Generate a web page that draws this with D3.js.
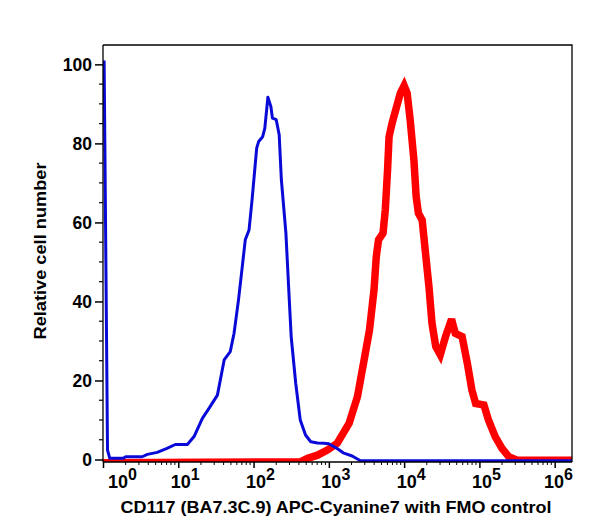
<!DOCTYPE html>
<html>
<head>
<meta charset="utf-8">
<script src="https://cdn.jsdelivr.net/npm/d3@7"></script>
<style>
  html, body { margin: 0; padding: 0; background: #fff; }
  svg { display: block; }
  text { font-family: "Liberation Sans", Arial, Helvetica, sans-serif; font-weight: bold; fill: #000; }
</style>
</head>
<body>
<div id="chart"></div>
<script>
// ---- Data ----
// Blue histogram: fluorescence intensity and relative cell number
const blueX = [1.035, 1.148, 1.23, 1.86, 2.0, 3.31, 3.89, 5.25, 7.08, 9.12, 13.2, 16.2, 20.9, 25.7, 33.1, 40.7, 49, 55, 63.1, 70.8, 77.6, 87.1, 95.5, 110, 117, 132, 141, 155, 170, 178, 200, 219, 234, 269, 295, 316, 363, 417, 490, 575, 708, 851, 1000, 1288, 1585, 2042, 2630, 1780000];
const blueY = [101, 2.4, 0.3, 0.3, 0.7, 0.7, 1.3, 1.8, 2.8, 3.8, 3.8, 5.8, 10.4, 13, 16.3, 25.2, 27.3, 31.9, 40.4, 48.8, 55.6, 58.1, 65.7, 78.8, 80.5, 81.7, 83.8, 91.7, 89.3, 86.4, 86, 82.2, 70.8, 57.3, 42.1, 31.1, 19.3, 10, 6.2, 4.5, 4.2, 4.1, 4.0, 2.8, 1.6, 0.9, -0.3, -0.3];
// Red histogram
const redX = [1, 417, 525, 708, 955, 1288, 1862, 2399, 2884, 3467, 3981, 4266, 4571, 5248, 5623, 6026, 6310, 6918, 7943, 8913, 10000, 10965, 12023, 13490, 14454, 15488, 17378, 19055, 21380, 23442, 26303, 30200, 35481, 42658, 47863, 58884, 69183, 79433, 89125, 114815, 131826, 162181, 199526, 245471, 316228, 1780000];
const redY = [-0.8, -0.6, 0.3, 1.1, 2.4, 4.1, 9.2, 15.9, 24.3, 32.8, 42.9, 51.3, 55.6, 57.3, 63.2, 73.3, 81.7, 85.1, 89.3, 92.7, 94.6, 92.7, 86, 75.8, 66.5, 62.3, 60.6, 53, 43.7, 34.5, 28.6, 26.5, 31.1, 35.5, 31.9, 31.1, 24.3, 17.6, 14.2, 13.8, 10, 5.8, 2.8, 0.7, -0.2, -0.2];

const xTickExponents = [0, 1, 2, 3, 4, 5, 6];
const yTickValues = [0, 20, 40, 60, 80, 100];
const xTitle = "CD117 (BA7.3C.9) APC-Cyanine7 with FMO control";
const yTitle = "Relative cell number";

// ---- Layout ----
const W = 593, H = 532;
const pL = 103, pR = 572, pT = 45, pB = 462;

const svg = d3.select("#chart").append("svg").attr("width", W).attr("height", H);

const x = d3.scaleLog().domain([1, Math.pow(10, 6.23)]).range([pL, pR]);
const y = d3.scaleLinear().domain([-0.63, 104.9]).range([pB, pT]);

svg.append("defs").append("clipPath").attr("id", "plotclip")
  .append("rect").attr("x", pL).attr("y", pT).attr("width", pR - pL).attr("height", pB - pT);

// Lines
const line = d3.line().x(d => x(d[0])).y(d => y(d[1]));
const plot = svg.append("g").attr("clip-path", "url(#plotclip)");
plot.append("path")
  .datum(redX.map((v, i) => [v, redY[i]]))
  .attr("d", line).attr("fill", "none").attr("stroke", "#ff0000")
  .attr("stroke-width", 7.5).attr("stroke-linejoin", "miter").attr("stroke-miterlimit", 3);
plot.append("path")
  .datum(blueX.map((v, i) => [v, blueY[i]]))
  .attr("d", line).attr("fill", "none").attr("stroke", "#0a0ad8")
  .attr("stroke-width", 3).attr("stroke-linejoin", "round");

// Frame (top and right)
svg.append("path")
  .attr("d", `M${pL},${pT}H${pR}V${pB}`)
  .attr("fill", "none").attr("stroke", "#000").attr("stroke-width", 1.3);

// Y axis
const yMinor = d3.range(0, 105, 5).filter(v => v % 20 !== 0);
const yAxisG = svg.append("g").attr("transform", `translate(${pL},0)`);
yAxisG.call(d3.axisLeft(y).tickValues(yTickValues).tickSize(8).tickPadding(3).tickFormat(d3.format("d")));
yAxisG.append("g").selectAll("line").data(yMinor).join("line")
  .attr("x1", -4).attr("x2", 0).attr("y1", d => y(d)).attr("y2", d => y(d))
  .attr("stroke", "#000").attr("stroke-width", 1.2);
yAxisG.select(".domain").attr("d", `M0,${pT}V${pB}`).attr("stroke-width", 1.3);
yAxisG.selectAll(".tick line").attr("stroke-width", 1.5);
yAxisG.selectAll(".tick text").style("font-size", "17.5px").style("font-family", "Liberation Sans, Arial, sans-serif").style("font-weight", "bold").attr("dy", "0.36em");

// X axis
const xMajor = xTickExponents.map(e => Math.pow(10, e));
const xMinor = [];
xTickExponents.forEach(e => { for (let k = 2; k <= 9; k++) { const v = k * Math.pow(10, e); if (v < x.domain()[1]) xMinor.push(v); } });
const xAxisG = svg.append("g").attr("transform", `translate(0,${pB})`);
xAxisG.call(d3.axisBottom(x).tickValues(xMajor).tickSize(6).tickFormat(""));
xAxisG.select(".domain").attr("d", `M${pL},0H${pR}`).attr("stroke-width", 1.3);
xAxisG.selectAll(".tick line").attr("stroke-width", 1.5);
xAxisG.append("g").selectAll("line").data(xMinor).join("line")
  .attr("x1", d => x(d)).attr("x2", d => x(d)).attr("y1", 0).attr("y2", 3)
  .attr("stroke", "#000").attr("stroke-width", 1);

// x tick labels 10^n
const lab = svg.append("g");
xTickExponents.forEach((e, i) => {
  const t = lab.append("text").attr("y", 488).style("font-size", "18px").attr("text-anchor", "start");
  t.append("tspan").text("10");
  t.append("tspan").attr("dy", -8).style("font-size", "16px").text(String(e));
  const w = t.node().getComputedTextLength();
  let sx = x(Math.pow(10, e)) + 7 - w / 2;
  if (sx < pL + 5) sx = pL + 5;
  if (sx + w > pR + 1) sx = pR + 1 - w;
  t.attr("x", sx);
});

// Titles
svg.append("text")
  .attr("x", 336).attr("y", 513).attr("text-anchor", "middle")
  .style("font-size", "16.5px")
  .attr("textLength", 431).attr("lengthAdjust", "spacingAndGlyphs")
  .text(xTitle);

svg.append("text")
  .attr("transform", "translate(46,251) rotate(-90)")
  .attr("text-anchor", "middle")
  .style("font-size", "16.5px")
  .attr("textLength", 177).attr("lengthAdjust", "spacingAndGlyphs")
  .text(yTitle);
</script>
</body>
</html>
